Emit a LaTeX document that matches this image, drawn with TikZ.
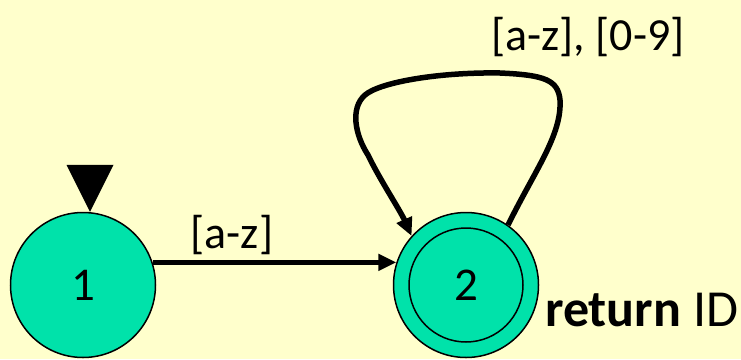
\documentclass[tikz,border=0pt]{standalone}
\usepackage{fontspec}
\setmainfont{Carlito}
\usetikzlibrary{arrows.meta}
\definecolor{bgyellow}{RGB}{255,255,204}
\definecolor{stategreen}{RGB}{0,226,170}

\begin{document}
\begin{tikzpicture}[x=1pt, y=-1pt,
  state/.style={circle, draw, line width=1.5pt, fill=stategreen,
                minimum size=145pt, inner sep=0pt,
                font=\fontsize{47}{50}\selectfont},
  inner/.style={circle, draw, line width=1.5pt, minimum size=114pt,
                inner sep=0pt, font=\fontsize{47}{50}\selectfont},
  arr/.style={-{Triangle[length=18pt,width=16pt]}, line width=5pt},
  lbl/.style={anchor=base, inner sep=0pt, font=\fontsize{46}{50}\selectfont}
]
  % Background
  \fill[bgyellow] (0,0) rectangle (741,359);
  \useasboundingbox (0,0) rectangle (741,359);

  % States
  \node[state] (s1) at (83,285) {1};
  \node[state] (s2) at (466,285) {};
  \node[inner] (s2i) at (s2) {2};

  % Start marker
  \fill ([xshift=7pt]s1.north) -- ++(-23.5,-47) -- ++(47,0) -- cycle;

  % Transitions
  \draw[arr] (s1.18) -- (s2.162);
  \node[lbl] (l12) at (232,248) {[a-z]};

  \draw[arr, line width=5.5pt, line join=round] (s2.55)
    .. controls (535,170) and (562,135) .. (560,100)
    .. controls (558,80) and (545,75) .. (500,73)
    .. controls (440,72) and (380,82) .. (365,95)
    .. controls (350,108) and (355,135) .. (368,155)
    .. controls (380,180) and (400,210) .. (s2.138);
  \node[lbl] (l22) at (588,50) {[a-z], [0-9]};

  % Output
  \node[anchor=base west, inner sep=0pt, font=\fontsize{52}{56}\selectfont]
    (ret) at (545,326) {\textbf{return} ID};
\end{tikzpicture}
\end{document}
